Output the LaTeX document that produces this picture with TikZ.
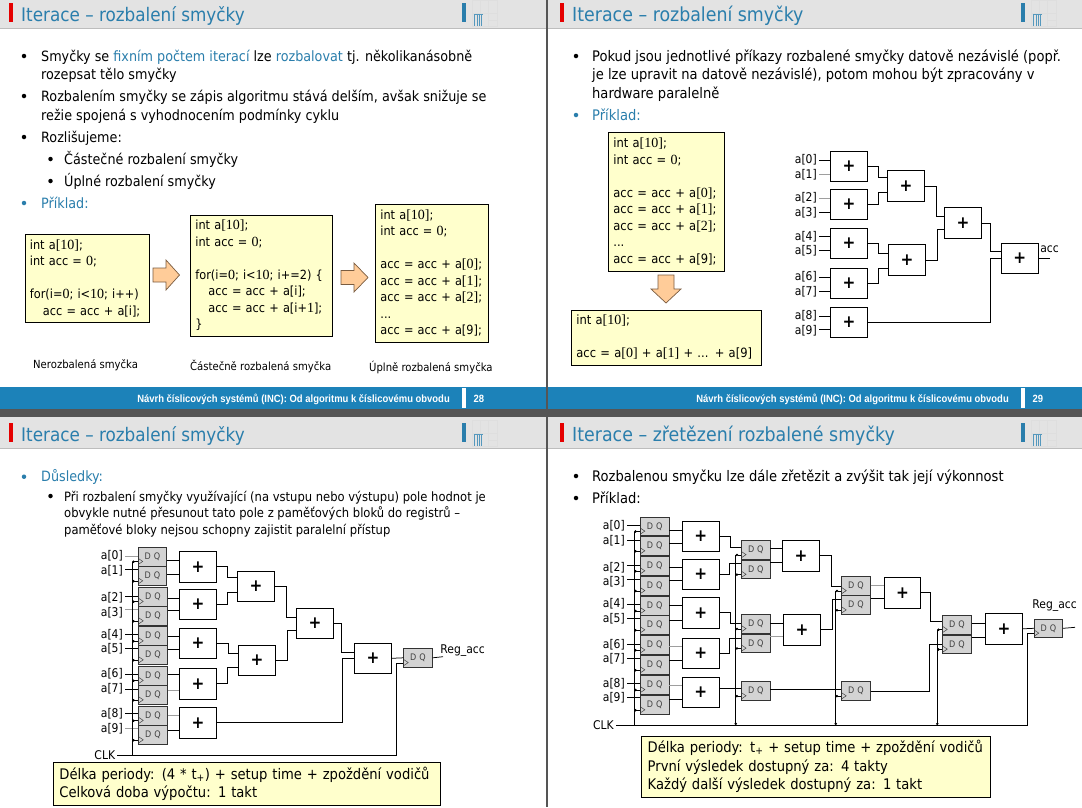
\documentclass[tikz,border=0pt]{standalone}
\usepackage{fontspec}
\setmainfont{DejaVu Sans Condensed}
\newfontfamily\numfont{Liberation Serif}
\newfontfamily\footfont[FakeStretch=0.9]{Liberation Sans}
\usetikzlibrary{arrows.meta}
\definecolor{fitblue}{HTML}{2A7EAC}
\definecolor{footblue}{HTML}{1C82B9}
\definecolor{headgray}{HTML}{E3E3E3}
\definecolor{headline}{HTML}{BDBDBD}
\definecolor{darkband}{HTML}{555555}
\definecolor{boxyellow}{HTML}{FFFFCC}
\definecolor{arrowfill}{HTML}{FFCC99}
\definecolor{arrowline}{HTML}{7A5C40}
\definecolor{reggray}{HTML}{D3D3D3}
\newcommand{\nm}[1]{{\numfont\fontsize{14}{16}\selectfont #1}}
\newcommand{\slidehead}[7]{%
  \fill[headgray] (#2,#4-3) rectangle (#3,#4+27.5);
  \draw[headline, line width=1pt] (#2,#4+28) -- (#3,#4+28);
  \fill[red!90!black] (#5+8.7,#4+3) rectangle (#5+12.5,#4+22);
  \node[titletxt] (#1) at (#5+21,#4+21) {#7};
  \fill[fitblue] (#6+461.5,#4+3) rectangle (#6+465.5,#4+22);
  \draw[logogrid] (#6+472,#4+0) rectangle (#6+497,#4+26);
  \draw[logogrid] (#6+480,#4+0) -- (#6+480,#4+13) (#6+488,#4+0) -- (#6+488,#4+26)
    (#6+472,#4+13) -- (#6+497,#4+13) (#6+488,#4+20) -- (#6+497,#4+20);
  \draw[fitblue!80, line width=.9pt] (#6+474.5,#4+14) -- (#6+474.5,#4+26) (#6+477,#4+14) -- (#6+477,#4+26)
    (#6+479.5,#4+14) -- (#6+479.5,#4+26) (#6+481.5,#4+14) -- (#6+481.5,#4+26) (#6+473.5,#4+14) -- (#6+482.5,#4+14);
}
\newcommand{\slidefoot}[6]{%
  \fill[footblue] (#2,387) rectangle (#3,409);
  \node[foottxt, anchor=base east] (#1t) at (#4,402.5) {Návrh číslicových systémů (INC): Od algoritmu k číslicovému obvodu};
  \fill[white] (#5,388) rectangle (#5+3.7,408);
  \node[foottxt, anchor=base west] (#1n) at (#5+11.5,402.5) {#6};
}
\newcommand{\hwire}[4][wire]{\draw[#1] ([yshift=#4pt]#2.east) -- ([yshift=#4pt]#2.east -| #3.west);}
\newcommand{\clkwire}[2]{\path ([yshift=4.5pt]#2.south west) coordinate (ck); \draw[ckwire] (#1 |- ck) -- (ck);}
\begin{document}
\begin{tikzpicture}[
  x=1pt, y=-1pt,
  titletxt/.style={anchor=base west, inner sep=0pt, text=fitblue, font=\fontsize{18.7}{22}\selectfont},
  foottxt/.style={inner sep=0pt, text=white, font=\footfont\fontsize{10.5}{13}\selectfont\bfseries},
  logogrid/.style={draw=black!13, line width=.4pt},
  txt/.style={anchor=base west, inner sep=0pt, font=\fontsize{14.2}{18}\selectfont},
  captxt/.style={anchor=base west, inner sep=0pt, font=\fontsize{11.2}{15}\selectfont},
  dotb/.style={circle, fill=black, inner sep=0pt, minimum size=4.5pt},
  dotc/.style={circle, fill=fitblue, inner sep=0pt, minimum size=4.5pt},
  codebox/.style={draw, fill=boxyellow, line width=.8pt, anchor=north west, align=left, inner xsep=5pt, inner ysep=0pt, font=\fontsize{12.6}{16.5}\selectfont},
  infobox/.style={draw, fill=boxyellow, line width=.8pt, anchor=north west, align=left, inner xsep=6pt, inner ysep=0pt, font=\fontsize{14.6}{18.5}\selectfont},
  bigarrow/.style={draw=arrowline, fill=arrowfill, line width=.7pt},
  adder/.style={draw, fill=white, line width=.8pt, minimum width=36.5pt, minimum height=30pt, inner sep=0pt, font=\fontsize{17}{17}\selectfont\bfseries},
  regbox/.style={draw=black!80, fill=reggray, line width=.7pt, minimum width=28.5pt, minimum height=18.6pt, inner sep=0pt, text=black!75, font=\fontsize{9}{9}\selectfont,
    path picture={\draw[black!75, line width=.5pt] ([yshift=7.5pt]path picture bounding box.south west) -- ([shift={(4.5pt,4.5pt)}]path picture bounding box.south west) -- ([yshift=1.5pt]path picture bounding box.south west);}},
  inlabel/.style={anchor=east, inner ysep=0pt, inner xsep=2pt, font=\fontsize{12}{14}\selectfont},
  wire/.style={line width=.75pt},
  graywire/.style={line width=1pt, draw=black!38},
  ckwire/.style={line width=.75pt, {Circle[length=2.4pt]}-}
]
  \useasboundingbox (0,0) rectangle (1082,807);
  \fill[white] (0,0) rectangle (1082,807);

  % Slide 28
  \slidehead{s1title}{0}{546}{0}{0}{0}{Iterace – rozbalení smyčky}
  \node[dotb] (s1d1) at (24,56) {};
  \node[txt] (s1t1) at (41,61) {Smyčky se {\color{fitblue}fixním počtem iterací} lze {\color{fitblue}rozbalovat} tj. několikanásobně};
  \node[txt] (s1t2) at (41,79) {rozepsat tělo smyčky};
  \node[dotb] (s1d2) at (24,96) {};
  \node[txt] (s1t3) at (41,101) {Rozbalením smyčky se zápis algoritmu stává delším, avšak snižuje se};
  \node[txt] (s1t4) at (41,120) {režie spojená s vyhodnocením podmínky cyklu};
  \node[dotb] (s1d3) at (24,137) {};
  \node[txt] (s1t5) at (41,142) {Rozlišujeme:};
  \node[dotb] (s1d4) at (50.5,159) {};
  \node[txt] (s1t6) at (64,164) {Částečné rozbalení smyčky};
  \node[dotb] (s1d5) at (50.5,181) {};
  \node[txt] (s1t7) at (64,186) {Úplné rozbalení smyčky};
  \node[dotc] (s1d6) at (24,203) {};
  \node[txt, text=fitblue] (s1t8) at (41,208) {Příklad:};

  \node[codebox, text width=114pt, minimum height=88.5pt] (s1box1) at (24.5,233.5) {int a\nm{[10]};\\int acc = \nm{0};\\ \mbox{}\\for(i=\nm{0}; i<\nm{10}; i++)\\\hspace*{13pt}acc = acc + a[i];};
  \node[codebox, text width=132pt, minimum height=121.5pt] (s1box2) at (190,214.5) {int a\nm{[10]};\\int acc = \nm{0};\\ \mbox{}\\for(i=\nm{0}; i<\nm{10}; i+=2) \{\\\hspace*{13pt}acc = acc + a[i];\\\hspace*{13pt}acc = acc + a[i+\nm{1}];\\\}};
  \node[codebox, text width=103pt, minimum height=138.5pt] (s1box3) at (375,203.5) {int a\nm{[10]};\\int acc = \nm{0};\\ \mbox{}\\acc = acc + a\nm{[0]};\\acc = acc + a\nm{[1]};\\acc = acc + a\nm{[2]};\\...\\acc = acc + a[9];};
  \draw[bigarrow] (153,268) -- ++(13,0) -- ++(0,-8) -- ++(13.5,15) -- ++(-13.5,15) -- ++(0,-8) -- ++(-13,0) -- cycle;
  \draw[bigarrow] (341,270.5) -- ++(13,0) -- ++(0,-7.5) -- ++(14,14.5) -- ++(-14,14.5) -- ++(0,-7.5) -- ++(-13,0) -- cycle;
  \node[captxt] (s1c1) at (33,368) {Nerozbalená smyčka};
  \node[captxt] (s1c2) at (190,370) {Částečně rozbalená smyčka};
  \node[captxt] (s1c3) at (369,371) {Úplně rozbalená smyčka};
  \slidefoot{s1f}{0}{546}{450}{462}{28}

  % Slide 29
  \begin{scope}[titletxt/.append style={font=\fontsize{19.35}{22}\selectfont}, txt/.append style={font=\fontsize{14.55}{18}\selectfont}, codebox/.append style={font=\fontsize{12.8}{16.5}\selectfont}]
  \slidehead{s2title}{548}{1082}{0}{551}{559}{Iterace – rozbalení smyčky}
  \node[dotb] (s2d1) at (576,56) {};
  \node[txt] (s2t1) at (592,61) {Pokud jsou jednotlivé příkazy rozbalené smyčky datově nezávislé (popř.};
  \node[txt] (s2t2) at (592,79) {je lze upravit na datově nezávislé), potom mohou být zpracovány v};
  \node[txt] (s2t3) at (592,98) {hardware paralelně};
  \node[dotc] (s2d2) at (576,115) {};
  \node[txt, text=fitblue] (s2t4) at (592,120) {Příklad:};
  \node[codebox, text width=106pt, minimum height=139pt] (s2box1) at (608,131.5) {int a\nm{[10]};\\int acc = \nm{0};\\ \mbox{}\\acc = acc + a\nm{[0]};\\acc = acc + a\nm{[1]};\\acc = acc + a\nm{[2]};\\...\\acc = acc + a[9];};
  \draw[bigarrow] (658,275) -- ++(16,0) -- ++(0,14) -- ++(7,0) -- ++(-15,14) -- ++(-15,-14) -- ++(7,0) -- cycle;
  \node[codebox, text width=180pt, minimum height=55pt] (s2box2) at (571,309.5) {int a\nm{[10]};\\ \mbox{}\\acc = a\nm{[0]} + a\nm{[1]} + ... + a[9]};

  \node[inlabel] (s2l0) at (819,160) {a[0]};
  \node[inlabel] (s2l1) at (819,175) {a[1]};
  \node[inlabel] (s2l2) at (819,198) {a[2]};
  \node[inlabel] (s2l3) at (819,212.5) {a[3]};
  \node[inlabel] (s2l4) at (819,236.5) {a[4]};
  \node[inlabel] (s2l5) at (819,250.5) {a[5]};
  \node[inlabel] (s2l6) at (819,277) {a[6]};
  \node[inlabel] (s2l7) at (819,291.5) {a[7]};
  \node[inlabel] (s2l8) at (819,316) {a[8]};
  \node[inlabel] (s2l9) at (819,330.5) {a[9]};
  \node[adder] (s2a1) at (849,166.5) {+};
  \node[adder] (s2a2) at (849,204.5) {+};
  \node[adder] (s2a3) at (849,243) {+};
  \node[adder] (s2a4) at (849,283.5) {+};
  \node[adder] (s2a5) at (849,322.5) {+};
  \node[adder, minimum height=31pt] (s2b1) at (906,186) {+};
  \node[adder, minimum height=31pt] (s2b2) at (907,260) {+};
  \node[adder, minimum height=31pt] (s2c1) at (963,223) {+};
  \node[adder] (s2e1) at (1019.7,258.5) {+};
  \node[inlabel, inner xsep=0pt] (s2acc) at (1059,249) {acc};
  \coordinate (s2end) at (1050,258.5);
  \hwire{s2l0}{s2a1}{0} \hwire[graywire]{s2l1}{s2a1}{1} \hwire[graywire]{s2l2}{s2a2}{0} \hwire{s2l3}{s2a2}{0} \hwire{s2l4}{s2a3}{0}
  \hwire{s2l5}{s2a3}{0} \hwire{s2l6}{s2a4}{0} \hwire{s2l7}{s2a4}{0} \hwire{s2l8}{s2a5}{0} \hwire{s2l9}{s2a5}{1}
  \draw[wire] (s2a1.east) -- ++(10.5,0) |- ([yshift=8.7pt]s2b1.west);
  \draw[wire] (s2a2.east) -- ++(10.5,0) |- ([yshift=-6.3pt]s2b1.west);
  \draw[wire] (s2a3.east) -- ++(10.5,0) |- ([yshift=6.7pt]s2b2.west);
  \draw[wire] (s2a4.east) -- ++(10.5,0) |- ([yshift=-8.3pt]s2b2.west);
  \draw[wire] (s2b1.east) -- ++(11.3,0) |- ([yshift=6.3pt]s2c1.west);
  \draw[wire] (s2b2.east) -- ++(11.3,0) |- ([yshift=-6.3pt]s2c1.west);
  \draw[wire] (s2c1.east) -- ++(8.6,0) |- ([yshift=6.8pt]s2e1.west);
  \draw[wire] (s2a5.east) -- ++(123,0) |- (s2e1.west);
  \draw[wire] (s2e1.east) -- (s2end);
  \slidefoot{s2f}{548}{1082}{1009}{1021}{29}
  \end{scope}

  % Slide with registers on inputs
  \slidehead{s3title}{0}{546}{420}{0}{0}{Iterace – rozbalení smyčky}
  \node[dotc] (s3d1) at (24,476.7) {};
  \node[txt, text=fitblue] (s3t1) at (41,481) {Důsledky:};
  \node[dotb] (s3d2) at (50.5,496) {};
  \node[txt, font=\fontsize{12.85}{16}\selectfont] (s3t2) at (64,501) {Při rozbalení smyčky využívající (na vstupu nebo výstupu) pole hodnot je};
  \node[txt, font=\fontsize{12.85}{16}\selectfont] (s3t3) at (64,517.5) {obvykle nutné přesunout tato pole z paměťových bloků do registrů –};
  \node[txt, font=\fontsize{12.85}{16}\selectfont] (s3t4) at (64,534) {paměťové bloky nejsou schopny zajistit paralelní přístup};

  \node[inlabel] (s3l0) at (125,556) {a[0]};
  \node[inlabel] (s3l1) at (125,570.7) {a[1]};
  \node[inlabel] (s3l2) at (125,598) {a[2]};
  \node[inlabel] (s3l3) at (125,613) {a[3]};
  \node[inlabel] (s3l4) at (125,634.5) {a[4]};
  \node[inlabel] (s3l5) at (125,648.3) {a[5]};
  \node[inlabel] (s3l6) at (125,674) {a[6]};
  \node[inlabel] (s3l7) at (125,689) {a[7]};
  \node[inlabel] (s3l8) at (125,713.7) {a[8]};
  \node[inlabel] (s3l9) at (125,729) {a[9]};
  \node[regbox] (s3r0) at (152.5,556.6) {D\hspace{3pt}Q};
  \node[regbox] (s3r1) at (152.5,576) {D\hspace{3pt}Q};
  \node[regbox] (s3r2) at (153,596.6) {D\hspace{3pt}Q};
  \node[regbox] (s3r3) at (153,616) {D\hspace{3pt}Q};
  \node[regbox] (s3r4) at (153,636) {D\hspace{3pt}Q};
  \node[regbox] (s3r5) at (153,655) {D\hspace{3pt}Q};
  \node[regbox] (s3r6) at (153,675.6) {D\hspace{3pt}Q};
  \node[regbox] (s3r7) at (153,695) {D\hspace{3pt}Q};
  \node[regbox] (s3r8) at (153,715.6) {D\hspace{3pt}Q};
  \node[regbox] (s3r9) at (153,735) {D\hspace{3pt}Q};
  \node[adder, minimum height=31pt] (s3a1) at (198,566.8) {+};
  \node[adder] (s3a2) at (198,604.3) {+};
  \node[adder] (s3a3) at (198,643.3) {+};
  \node[adder, minimum height=31pt] (s3a4) at (198,683.8) {+};
  \node[adder, minimum height=31pt] (s3a5) at (198,722.8) {+};
  \node[adder] (s3b1) at (256,586.3) {+};
  \node[adder] (s3b2) at (257,660.3) {+};
  \node[adder] (s3c1) at (315,623.3) {+};
  \node[adder] (s3e1) at (373,658.3) {+};
  \node[regbox] (s3out) at (418,657.8) {D\hspace{3pt}Q};
  \node[inlabel, inner xsep=0pt] (s3acc) at (485,651) {Reg\_acc};
  \node[inlabel] (s3clk) at (117.3,755.3) {CLK};
  \coordinate (s3bus) at (132.3,755.3);
  \coordinate (s3bustop) at (132.3,561.7);
  \coordinate (s3cke) at (396.7,755.3);
  \coordinate (s3end) at (443,656.7);
  \hwire[graywire]{s3l0}{s3r0}{0} \hwire{s3l1}{s3r1}{1} \hwire{s3l2}{s3r2}{2} \hwire[graywire]{s3l3}{s3r3}{3.7} \hwire{s3l4}{s3r4}{0}
  \hwire{s3l5}{s3r5}{0} \hwire{s3l6}{s3r6}{0} \hwire{s3l7}{s3r7}{0} \hwire{s3l8}{s3r8}{0} \hwire[graywire]{s3l9}{s3r9}{1}
  \hwire{s3r0}{s3a1}{-3.3} \hwire{s3r1}{s3a1}{2} \hwire{s3r2}{s3a2}{-1.7} \hwire{s3r3}{s3a2}{6} \hwire{s3r4}{s3a3}{0}
  \hwire{s3r5}{s3a3}{5.7} \hwire{s3r6}{s3a4}{1} \hwire[graywire]{s3r7}{s3a4}{4.3} \hwire[graywire]{s3r8}{s3a5}{-.3} \hwire{s3r9}{s3a5}{5}
  \draw[wire] (s3a1.east) -- ++(11,0) |- ([yshift=9pt]s3b1.west);
  \draw[wire] (s3a2.east) -- ++(11,0) |- ([yshift=-6pt]s3b1.west);
  \draw[wire] (s3a3.east) -- ++(11.5,0) |- ([yshift=6.6pt]s3b2.west);
  \draw[wire] (s3a4.east) -- ++(11,0) |- ([yshift=-7.4pt]s3b2.west);
  \draw[wire] (s3b1.east) -- ++(12,0) |- ([yshift=6pt]s3c1.west);
  \draw[wire] (s3b2.east) -- ++(12,0) |- ([yshift=-6.7pt]s3c1.west);
  \draw[wire] (s3c1.east) -- ++(8,0) |- ([yshift=5.6pt]s3e1.west);
  \draw[wire] (s3a5.east) -- ++(126,0) |- (s3e1.west);
  \draw[wire] (s3e1.east) -- (s3out.west);
  \draw[wire] (s3out.east) -- (s3end);
  \draw[wire] (s3clk) -- (s3cke) |- ([yshift=4.5pt]s3out.south west);
  \draw[wire] (s3bus) -- (s3bustop);
  \clkwire{s3bus}{s3r0} \clkwire{s3bus}{s3r1} \clkwire{s3bus}{s3r2} \clkwire{s3bus}{s3r3} \clkwire{s3bus}{s3r4}
  \clkwire{s3bus}{s3r5} \clkwire{s3bus}{s3r6} \clkwire{s3bus}{s3r7} \clkwire{s3bus}{s3r8} \clkwire{s3bus}{s3r9}
  \node[infobox, text width=375pt, minimum height=42.7pt] (s3info) at (53,762.3) {Délka periody: (4 * t\textsubscript{+}) + setup time + zpoždění vodičů\\Celková doba výpočtu: 1 takt};

  % Slide with pipeline registers
  \begin{scope}[titletxt/.append style={font=\fontsize{19.35}{22}\selectfont}, txt/.append style={font=\fontsize{14.55}{18}\selectfont}]
  \slidehead{s4title}{548}{1082}{420}{551}{559}{Iterace – zřetězení rozbalené smyčky}
  \node[dotb] (s4d1) at (576,476) {};
  \node[txt] (s4t1) at (592,481) {Rozbalenou smyčku lze dále zřetězit a zvýšit tak její výkonnost};
  \node[dotb] (s4d2) at (576,498) {};
  \node[txt] (s4t2) at (592,503) {Příklad:};

  \node[inlabel] (s4l0) at (627,525.7) {a[0]};
  \node[inlabel] (s4l1) at (627,540.5) {a[1]};
  \node[inlabel] (s4l2) at (627,568) {a[2]};
  \node[inlabel] (s4l3) at (627,582) {a[3]};
  \node[inlabel] (s4l4) at (627,604) {a[4]};
  \node[inlabel] (s4l5) at (627,618.3) {a[5]};
  \node[inlabel] (s4l6) at (627,644.7) {a[6]};
  \node[inlabel] (s4l7) at (627,658.3) {a[7]};
  \node[inlabel] (s4l8) at (627,683.5) {a[8]};
  \node[inlabel] (s4l9) at (627,697.7) {a[9]};
  \node[regbox] (s4r0) at (654.6,526.3) {D\hspace{3pt}Q};
  \node[regbox] (s4r1) at (654.6,546) {D\hspace{3pt}Q};
  \node[regbox] (s4r2) at (654.6,566) {D\hspace{3pt}Q};
  \node[regbox] (s4r3) at (654.6,585.8) {D\hspace{3pt}Q};
  \node[regbox] (s4r4) at (654.6,605.8) {D\hspace{3pt}Q};
  \node[regbox] (s4r5) at (654.6,625) {D\hspace{3pt}Q};
  \node[regbox] (s4r6) at (654.6,645.1) {D\hspace{3pt}Q};
  \node[regbox] (s4r7) at (654.6,665) {D\hspace{3pt}Q};
  \node[regbox] (s4r8) at (654.6,684.8) {D\hspace{3pt}Q};
  \node[regbox] (s4r9) at (654.6,705) {D\hspace{3pt}Q};
  \node[adder] (s4a1) at (700.8,536.5) {+};
  \node[adder] (s4a2) at (700.8,574.3) {+};
  \node[adder, minimum height=31pt] (s4a3) at (700.8,612.8) {+};
  \node[adder] (s4a4) at (700.8,653.3) {+};
  \node[adder] (s4a5) at (700.8,692.3) {+};
  \node[regbox] (s4s0) at (755.8,549.8) {D\hspace{3pt}Q};
  \node[regbox] (s4s1) at (755.8,569.5) {D\hspace{3pt}Q};
  \node[regbox] (s4s2) at (755.8,623.8) {D\hspace{3pt}Q};
  \node[regbox] (s4s3) at (755.8,643.3) {D\hspace{3pt}Q};
  \node[regbox] (s4s4) at (755.8,691) {D\hspace{3pt}Q};
  \node[adder, minimum height=31pt] (s4b1) at (801,555.8) {+};
  \node[adder, minimum height=31pt] (s4b2) at (802,629.8) {+};
  \node[regbox] (s4t0) at (856,585.8) {D\hspace{3pt}Q};
  \node[regbox] (s4t1r) at (856,605.1) {D\hspace{3pt}Q};
  \node[regbox] (s4t4) at (856,691) {D\hspace{3pt}Q};
  \node[adder, minimum height=31pt] (s4c1) at (902.5,592.8) {+};
  \node[regbox] (s4u0) at (957,624.6) {D\hspace{3pt}Q};
  \node[regbox] (s4u1) at (957,644.3) {D\hspace{3pt}Q};
  \node[adder, minimum height=31pt] (s4e1) at (1004,628.8) {+};
  \node[regbox] (s4out) at (1048.5,628.3) {D\hspace{3pt}Q};
  \node[inlabel, inner xsep=0pt] (s4acc) at (1077,606) {Reg\_acc};
  \node[inlabel] (s4clk) at (616,725) {CLK};
  \coordinate (s4bus) at (634.3,725);
  \coordinate (s4bustop) at (634.3,531.5);
  \coordinate (s4busb) at (735.7,725);
  \coordinate (s4busbtop) at (735.7,555);
  \coordinate (s4busc) at (835.7,725);
  \coordinate (s4busctop) at (835.7,591);
  \coordinate (s4busd) at (937.3,725);
  \coordinate (s4busdtop) at (937.3,630);
  \coordinate (s4cke) at (1027.3,725);
  \coordinate (s4end) at (1075,627.3);
  \hwire{s4l0}{s4r0}{0} \hwire{s4l1}{s4r1}{0} \hwire{s4l2}{s4r2}{3} \hwire{s4l3}{s4r3}{3} \hwire{s4l4}{s4r4}{0}
  \hwire{s4l5}{s4r5}{0} \hwire{s4l6}{s4r6}{0} \hwire{s4l7}{s4r7}{0} \hwire{s4l8}{s4r8}{0} \hwire{s4l9}{s4r9}{0}
  \hwire{s4r0}{s4a1}{-3.7} \hwire{s4r1}{s4a1}{2.7} \hwire{s4r2}{s4a2}{-1.3} \hwire{s4r3}{s4a2}{5} \hwire{s4r4}{s4a3}{0}
  \hwire{s4r5}{s4a3}{5} \hwire[graywire]{s4r6}{s4a4}{-1.5} \hwire{s4r7}{s4a4}{4.3} \hwire[graywire]{s4r8}{s4a5}{-.8} \hwire{s4r9}{s4a5}{5.7}
  \draw[wire] (s4a1.east) -- ++(11.4,0) |- ([yshift=2.5pt]s4s0.west);
  \draw[wire] (s4a2.east) -- ++(10,0) |- ([yshift=6.2pt]s4s1.west);
  \draw[wire] (s4a3.east) -- ++(11.4,0) |- ([yshift=0pt]s4s2.west);
  \draw[wire] (s4a4.east) -- ++(10,0) |- ([yshift=5pt]s4s3.west);
  \hwire{s4a5}{s4s4}{3.6}
  \hwire{s4s0}{s4b1}{1.5} \hwire{s4s1}{s4b1}{7} \hwire{s4s2}{s4b2}{.5} \hwire[graywire]{s4s3}{s4b2}{6.6} \hwire{s4s4}{s4t4}{1.7}
  \draw[wire] (s4b1.east) -- ++(12,0) |- ([yshift=-1pt]s4t0.west);
  \draw[wire] (s4b2.east) -- ++(11.6,0) |- ([yshift=5.8pt]s4t1r.west);
  \hwire[graywire]{s4t0}{s4c1}{.8} \hwire{s4t1r}{s4c1}{6.8}
  \draw[wire] (s4c1.east) -- ++(9,0) |- ([yshift=3pt]s4u0.west);
  \draw[wire] ([yshift=-.7pt]s4t4.east) -- ++(58.6,0) |- (s4u1.west);
  \hwire{s4u0}{s4e1}{1.3} \hwire{s4u1}{s4e1}{7}
  \draw[wire] (s4e1.east) -- (s4out.west);
  \draw[wire] (s4out.east) -- (s4end);
  \draw[wire] (s4clk) -- (s4cke) |- ([yshift=4.5pt]s4out.south west);
  \draw[wire] (s4bus) -- (s4bustop);
  \draw[ckwire] (s4busb) -- (s4busbtop);
  \draw[ckwire] (s4busc) -- (s4busctop);
  \draw[ckwire] (s4busd) -- (s4busdtop);
  \clkwire{s4bus}{s4r0} \clkwire{s4bus}{s4r1} \clkwire{s4bus}{s4r2} \clkwire{s4bus}{s4r3} \clkwire{s4bus}{s4r4}
  \clkwire{s4bus}{s4r5} \clkwire{s4bus}{s4r6} \clkwire{s4bus}{s4r7} \clkwire{s4bus}{s4r8} \clkwire{s4bus}{s4r9}
  \clkwire{s4busb}{s4s0} \clkwire{s4busb}{s4s1} \clkwire{s4busb}{s4s2} \clkwire{s4busb}{s4s3} \clkwire{s4busb}{s4s4}
  \clkwire{s4busc}{s4t0} \clkwire{s4busc}{s4t1r} \clkwire{s4busc}{s4t4}
  \clkwire{s4busd}{s4u0} \clkwire{s4busd}{s4u1}
  \node[infobox, text width=337pt, minimum height=61pt] (s4info) at (641.3,735.7) {Délka periody: t\textsubscript{+} + setup time + zpoždění vodičů\\První výsledek dostupný za: 4 takty\\Každý další výsledek dostupný za: 1 takt};
  \end{scope}

  % Dark bands between the slides
  \fill[darkband] (0,409) rectangle (1082,417);
  \fill[darkband] (546,0) rectangle (548,807);
\end{tikzpicture}
\end{document}
